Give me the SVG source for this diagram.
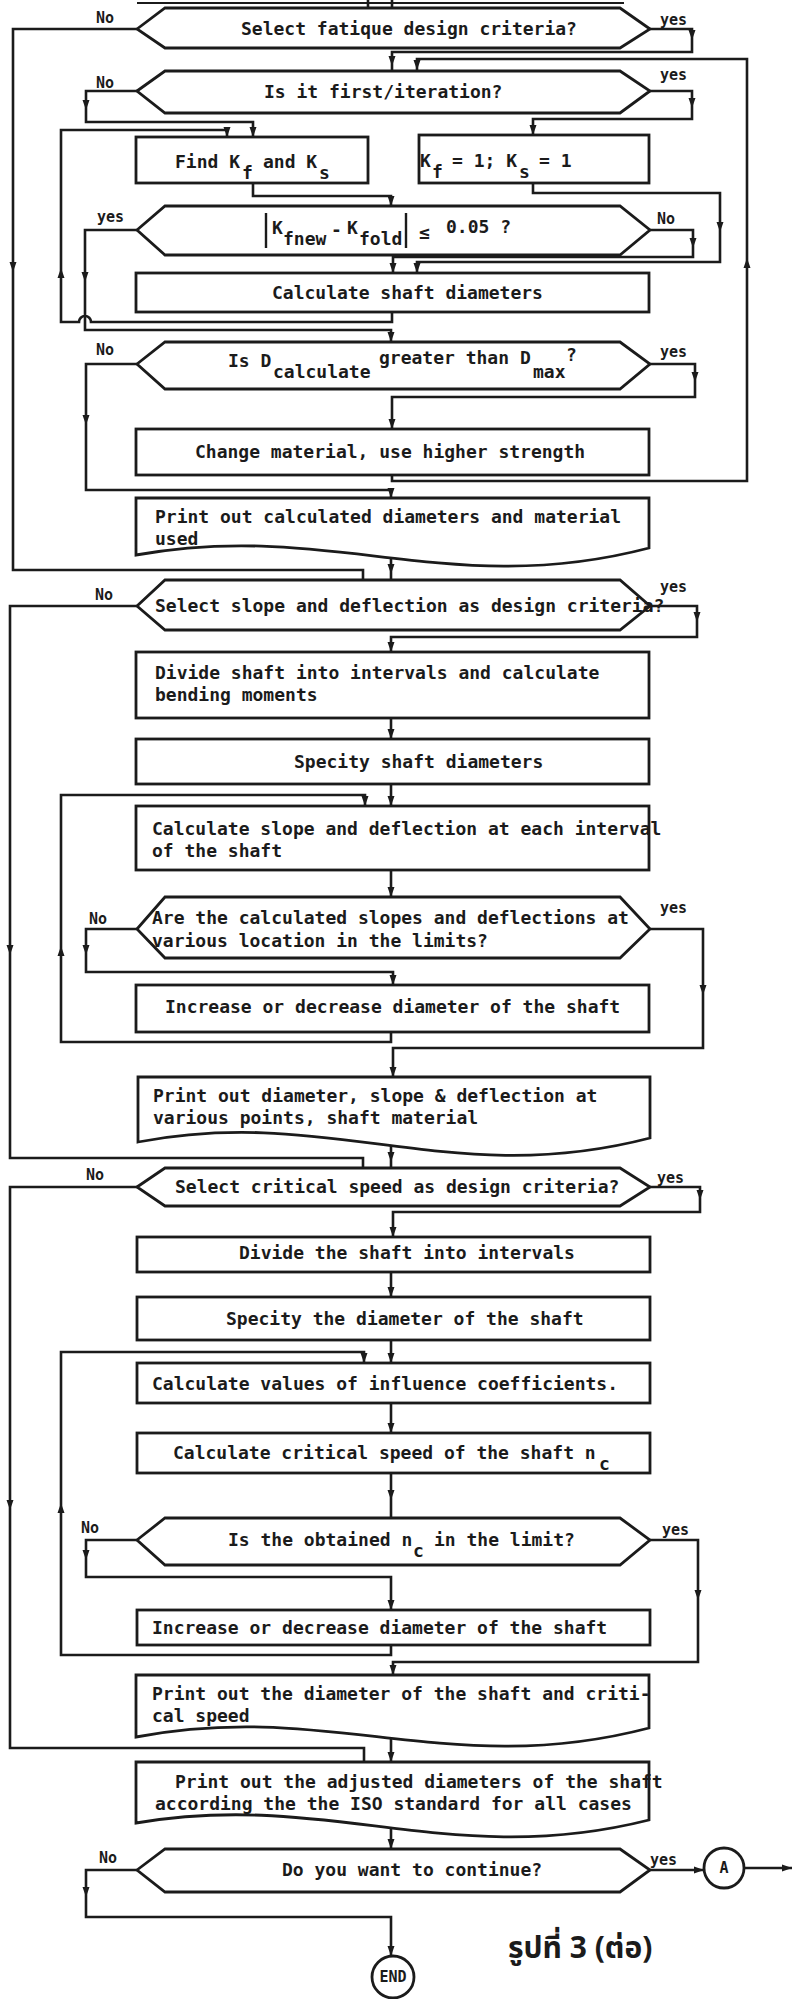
<svg xmlns="http://www.w3.org/2000/svg" width="792" height="1999" viewBox="0 0 792 1999">
<style>
.nd{fill:#fff;stroke:#1b1b1b;stroke-width:2.8;stroke-linejoin:miter}
.cn{fill:none;stroke:#1b1b1b;stroke-width:2.6}
.t{font-family:"DejaVu Sans Mono","Liberation Mono",monospace;font-size:18px;font-weight:bold;fill:#1b1b1b}
.l{font-family:"DejaVu Sans Mono","Liberation Mono",monospace;font-size:15px;font-weight:bold;fill:#1b1b1b}
.ah{fill:#1b1b1b;stroke:none}
</style>
<defs>
<path id="ah" d="M0,0 L-3.5,-10 L3.5,-10 Z"/>
</defs>
<rect width="792" height="1999" fill="#fff"/>

<g id="connectors" class="cn">
<path d="M137,3 H624" stroke-width="2"/>
<path d="M368,0 V8 M392,0 V8"/>
<path d="M650,29 H692 V52 H392 V71"/>
<path d="M392,475 V481 H747 V59 H417 V71"/>
<path d="M137,91 H86 V122 H253 V137"/>
<path d="M650,91 H692 V119 H533 V135"/>
<path d="M392,312 V322 H91 a6,6 0 0 0 -12,0 H61 V130 H227 V137"/>
<path d="M253,183 V196 H391 V206"/>
<path d="M533,183 V193 H720 V262 H417 V273"/>
<path d="M650,230 H693 V257 H393 V273"/>
<path d="M137,230 H85 V330 H391 V342"/>
<path d="M137,29 H13 V570 H363 V580"/>
<path d="M650,364 H695 V397 H392 V429"/>
<path d="M137,364 H86 V490 H391 V498"/>
<path d="M391,556 V580"/>
<path d="M137,606 H10 V1158 H363 V1168"/>
<path d="M650,606 H697 V637 H391 V652"/>
<path d="M391,718 V739"/>
<path d="M391,784 V806"/>
<path d="M391,1032 V1042 H61 V795 H365 V806"/>
<path d="M391,870 V897"/>
<path d="M137,929 H86 V972 H393 V985"/>
<path d="M650,929 H703 V1048 H393 V1077"/>
<path d="M391,1140 V1168"/>
<path d="M137,1187 H10 V1748 H364 V1762"/>
<path d="M650,1187 H700 V1212 H393 V1237"/>
<path d="M391,1272 V1297"/>
<path d="M391,1340 V1363"/>
<path d="M391,1645 V1655 H61 V1352 H364 V1363"/>
<path d="M391,1403 V1433"/>
<path d="M391,1473 V1518"/>
<path d="M137,1540 H86 V1577 H391 V1610"/>
<path d="M650,1540 H698 V1662 H393 V1675"/>
<path d="M391,1735 V1762"/>
<path d="M391,1826 V1849"/>
<path d="M650,1870 H704"/>
<path d="M744,1868 H792"/>
<path d="M137,1870 H86 V1917 H391 V1956"/>
<g class="ah">
<use href="#ah" x="692" y="40"/>
<use href="#ah" x="392" y="66"/>
<use href="#ah" x="417" y="70"/>
<use href="#ah" x="86" y="110"/>
<use href="#ah" x="692" y="108"/>
<use href="#ah" x="253" y="137"/>
<use href="#ah" x="227" y="137"/>
<use href="#ah" x="533" y="135"/>
<use href="#ah" x="391" y="206"/>
<use href="#ah" x="693" y="248"/>
<use href="#ah" x="720" y="232"/>
<use href="#ah" x="393" y="273"/>
<use href="#ah" x="417" y="273"/>
<use href="#ah" x="85" y="282"/>
<use href="#ah" x="13" y="272"/>
<use href="#ah" x="391" y="342"/>
<use href="#ah" x="695" y="382"/>
<use href="#ah" x="86" y="425"/>
<use href="#ah" x="392" y="429"/>
<use href="#ah" x="391" y="498"/>
<use href="#ah" x="391" y="574"/>
<use href="#ah" x="697" y="622"/>
<use href="#ah" x="391" y="652"/>
<use href="#ah" x="391" y="739"/>
<use href="#ah" x="391" y="806"/>
<use href="#ah" x="365" y="806"/>
<use href="#ah" x="391" y="897"/>
<use href="#ah" x="86" y="955"/>
<use href="#ah" x="393" y="985"/>
<use href="#ah" x="703" y="995"/>
<use href="#ah" x="10" y="955"/>
<use href="#ah" x="393" y="1077"/>
<use href="#ah" x="391" y="1162"/>
<use href="#ah" x="700" y="1200"/>
<use href="#ah" x="393" y="1237"/>
<use href="#ah" x="391" y="1297"/>
<use href="#ah" x="391" y="1363"/>
<use href="#ah" x="364" y="1363"/>
<use href="#ah" x="391" y="1433"/>
<use href="#ah" x="391" y="1500"/>
<use href="#ah" x="86" y="1560"/>
<use href="#ah" x="698" y="1600"/>
<use href="#ah" x="391" y="1610"/>
<use href="#ah" x="10" y="1510"/>
<use href="#ah" x="393" y="1675"/>
<use href="#ah" x="391" y="1762"/>
<use href="#ah" x="391" y="1849"/>
<use href="#ah" x="86" y="1897"/>
<use href="#ah" x="391" y="1956"/>
<use href="#ah" transform="translate(747,258) rotate(180)"/>
<use href="#ah" transform="translate(61,268) rotate(180)"/>
<use href="#ah" transform="translate(61,946) rotate(180)"/>
<use href="#ah" transform="translate(61,1503) rotate(180)"/>
<use href="#ah" transform="translate(704,1870) rotate(-90)"/>
<use href="#ah" transform="translate(792,1868) rotate(-90)"/>
</g>
<g class="l" stroke="none">
<text x="96" y="23">No</text>
<text x="660" y="25">yes</text>
<text x="96" y="88">No</text>
<text x="660" y="80">yes</text>
<text x="97" y="222">yes</text>
<text x="657" y="224">No</text>
<text x="96" y="355">No</text>
<text x="660" y="357">yes</text>
<text x="95" y="600">No</text>
<text x="660" y="592">yes</text>
<text x="89" y="924">No</text>
<text x="660" y="913">yes</text>
<text x="86" y="1180">No</text>
<text x="657" y="1183">yes</text>
<text x="81" y="1533">No</text>
<text x="662" y="1535">yes</text>
<text x="99" y="1863">No</text>
<text x="650" y="1865">yes</text>
</g>
</g>

<g id="n_fatigue"><polygon class="nd" points="137,29 165,8 620,8 650,29 620,48 165,48"/><text class="t" x="241" y="35">Select fatique design criteria?</text></g>
<g id="n_first"><polygon class="nd" points="137,91 165,71 620,71 650,91 620,113 165,113"/><text class="t" x="264" y="98">Is it first/iteration?</text></g>
<g id="n_findk"><rect class="nd" x="136" y="137" width="232" height="46"/><text class="t"><tspan x="175" y="168">Find K</tspan><tspan x="242" y="179">f</tspan><tspan x="263" y="168">and K</tspan><tspan x="319" y="179">s</tspan></text></g>
<g id="n_k1"><rect class="nd" x="419" y="135" width="230" height="48"/><text class="t"><tspan x="420" y="167">K</tspan><tspan x="432" y="178">f</tspan><tspan x="452" y="167">= 1; K</tspan><tspan x="519" y="178">s</tspan><tspan x="539" y="167">= 1</tspan></text></g>
<g id="n_kdiff"><polygon class="nd" points="137,230 165,206 620,206 650,230 620,255 165,255"/><path d="M266,213 V248 M406,213 V248" stroke="#1b1b1b" stroke-width="2.4"/><text class="t"><tspan x="272" y="234">K</tspan><tspan x="283" y="245">fnew</tspan><tspan x="331" y="236">-</tspan><tspan x="347" y="234">K</tspan><tspan x="359" y="245">fold</tspan><tspan x="419" y="239">≤</tspan><tspan x="446" y="233">0.05 ?</tspan></text></g>
<g id="n_calcdia"><rect class="nd" x="136" y="273" width="513" height="39"/><text class="t" x="272" y="299">Calculate shaft diameters</text></g>
<g id="n_dmax"><polygon class="nd" points="137,364 165,342 620,342 650,364 620,389 165,389"/><text class="t"><tspan x="228" y="367">Is D</tspan><tspan x="273" y="378">calculate</tspan><tspan x="379" y="364">greater than D</tspan><tspan x="533" y="378">max</tspan><tspan x="566" y="361">?</tspan></text></g>
<g id="n_material"><rect class="nd" x="136" y="429" width="513" height="46"/><text class="t" x="195" y="458">Change material, use higher strength</text></g>
<g id="n_print1"><path class="nd" d="M136,498 H649 V548 C450,600 330,520 136,555 Z"/><text class="t"><tspan x="155" y="523">Print out calculated diameters and material</tspan><tspan x="155" y="545">used</tspan></text></g>
<g id="n_slope"><polygon class="nd" points="137,606 165,580 620,580 650,606 620,630 165,630"/><text class="t" x="155" y="612">Select slope and deflection as design criteria?</text></g>
<g id="n_divide"><rect class="nd" x="136" y="652" width="513" height="66"/><text class="t"><tspan x="155" y="679">Divide shaft into intervals and calculate</tspan><tspan x="155" y="701">bending moments</tspan></text></g>
<g id="n_spec1"><rect class="nd" x="136" y="739" width="513" height="45"/><text class="t" x="294" y="768">Specity shaft diameters</text></g>
<g id="n_calcslope"><rect class="nd" x="136" y="806" width="513" height="64"/><text class="t"><tspan x="152" y="835">Calculate slope and deflection at each interval</tspan><tspan x="152" y="857">of the shaft</tspan></text></g>
<g id="n_limits"><polygon class="nd" points="137,929 165,897 620,897 650,929 620,958 165,958"/><text class="t"><tspan x="152" y="924">Are the calculated slopes and deflections at</tspan><tspan x="152" y="947">various location in the limits?</tspan></text></g>
<g id="n_incr1"><rect class="nd" x="136" y="985" width="513" height="47"/><text class="t" x="165" y="1013">Increase or decrease diameter of the shaft</text></g>
<g id="n_print2"><path class="nd" d="M138,1077 H650 V1138 C450,1190 330,1105 138,1142 Z"/><text class="t"><tspan x="153" y="1102">Print out diameter, slope &amp; deflection at</tspan><tspan x="153" y="1124">various points, shaft material</tspan></text></g>
<g id="n_critical"><polygon class="nd" points="137,1187 165,1168 620,1168 650,1187 620,1206 165,1206"/><text class="t" x="175" y="1193">Select critical speed as design criteria?</text></g>
<g id="n_divide2"><rect class="nd" x="137" y="1237" width="513" height="35"/><text class="t" x="239" y="1259">Divide the shaft into intervals</text></g>
<g id="n_spec2"><rect class="nd" x="137" y="1297" width="513" height="43"/><text class="t" x="226" y="1325">Specity the diameter of the shaft</text></g>
<g id="n_influence"><rect class="nd" x="137" y="1363" width="513" height="40"/><text class="t" x="152" y="1390">Calculate values of influence coefficients.</text></g>
<g id="n_nc"><rect class="nd" x="137" y="1433" width="513" height="40"/><text class="t"><tspan x="173" y="1459">Calculate critical speed of the shaft n</tspan><tspan x="599" y="1470">c</tspan></text></g>
<g id="n_limit"><polygon class="nd" points="137,1540 165,1518 620,1518 650,1540 620,1565 165,1565"/><text class="t"><tspan x="228" y="1546">Is the obtained n</tspan><tspan x="413" y="1557">c</tspan><tspan x="434" y="1546">in the limit?</tspan></text></g>
<g id="n_incr2"><rect class="nd" x="137" y="1610" width="513" height="35"/><text class="t" x="152" y="1634">Increase or decrease diameter of the shaft</text></g>
<g id="n_print3"><path class="nd" d="M136,1675 H649 V1728 C450,1780 330,1700 136,1737 Z"/><text class="t"><tspan x="152" y="1700">Print out the diameter of the shaft and criti-</tspan><tspan x="152" y="1722">cal speed</tspan></text></g>
<g id="n_print4"><path class="nd" d="M136,1762 H649 V1820 C450,1870 330,1790 136,1823 Z"/><text class="t"><tspan x="175" y="1788">Print out the adjusted diameters of the shaft</tspan><tspan x="155" y="1810">according the the ISO standard for all cases</tspan></text></g>
<g id="n_continue"><polygon class="nd" points="137,1870 165,1849 620,1849 650,1870 620,1892 165,1892"/><text class="t" x="282" y="1876">Do you want to continue?</text></g>
<g id="n_A"><circle class="nd" cx="724" cy="1868" r="20"/><text class="l" x="724" y="1873" text-anchor="middle">A</text></g>
<g id="n_end"><ellipse class="nd" cx="393" cy="1977" rx="21" ry="21"/><text class="l" x="393" y="1982" text-anchor="middle" font-size="13">END</text></g>
<g id="caption"><text x="508" y="1958" font-family="'Noto Sans Thai','Noto Sans','DejaVu Sans',sans-serif" font-size="30" font-weight="bold" fill="#1b1b1b">รูปที่ 3 (ต่อ)</text></g>
</svg>
